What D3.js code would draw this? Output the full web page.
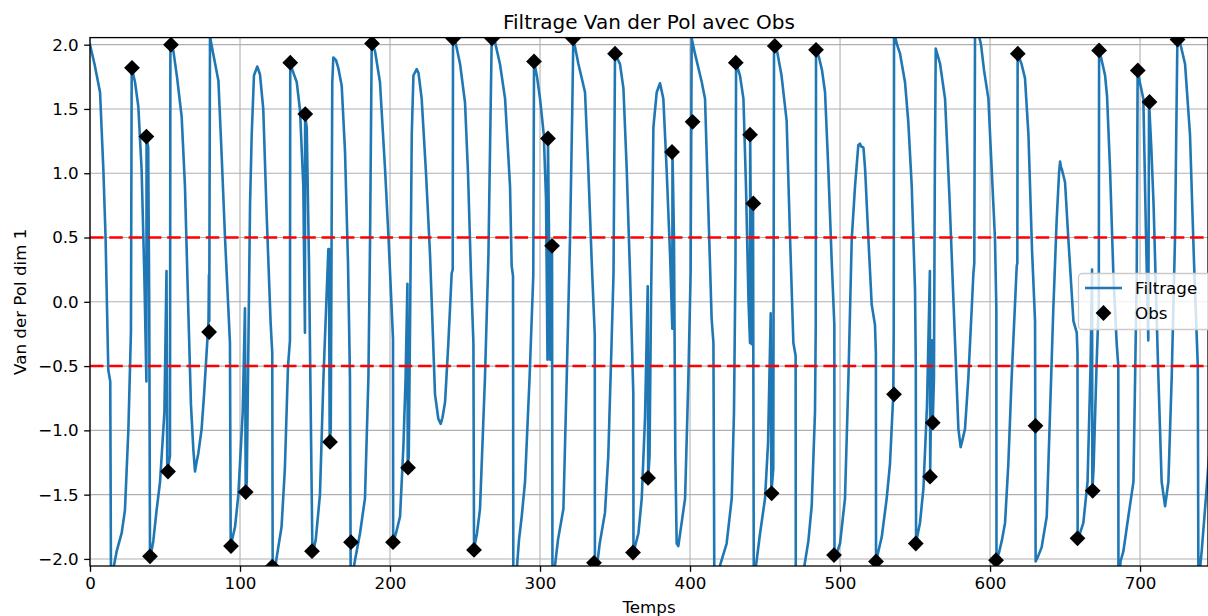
<!DOCTYPE html>
<html><head><meta charset="utf-8">
<script src="https://cdn.jsdelivr.net/npm/d3@7"></script>
<style>
html,body{margin:0;padding:0;background:#fff;}
svg{display:block;font-family:"DejaVu Sans",sans-serif;}
</style>
</head><body>
<svg id="chart" width="1208" height="616"></svg>
<script>
// ---------- data ----------
const titleText = "Filtrage Van der Pol avec Obs";
const xLabel = "Temps";
const yLabel = "Van der Pol dim 1";
const xTicks = [0, 100, 200, 300, 400, 500, 600, 700];
const yTicks = [-2.0, -1.5, -1.0, -0.5, 0.0, 0.5, 1.0, 1.5, 2.0];
const thresholds = [0.5, -0.5];
const legendLabels = ["Filtrage", "Obs"];

const obsTemps = [28, 37.6, 40, 52, 54, 79.4, 94, 103.8, 121.5, 133.5, 143.5, 148, 160, 174, 188, 202, 212,
  242, 256, 268, 296, 305.3, 308, 322, 336, 350, 362, 372, 388, 401.7, 430.5, 440, 442.2, 454.4, 456.5,
  484, 496, 524, 536, 550.5, 560, 561.8, 604, 618.5, 630.3, 658.3, 668.4, 672.7, 698.5, 706.3, 725];
const obsValeurs = [1.82, 1.285, -1.98, -1.32, 2.0, -0.235, -1.9, -1.48, -2.06, 1.86, 1.46, -1.94, -1.09, -1.87, 2.01, -1.87, -1.29,
  2.05, -1.93, 2.05, 1.87, 1.27, 0.435, 2.05, -2.03, 1.93, -1.95, -1.37, 1.165, 1.40, 1.86, 1.30, 0.765, -1.49, 1.99,
  1.96, -1.97, -2.02, -0.72, -1.88, -1.36, -0.94, -2.01, 1.93, -0.965, -1.84, -1.47, 1.955, 1.80, 1.555, 2.04];

const filtrage = [
[0,2.0],[3,1.85],[6.7,1.63],[8.9,1.03],[10.4,0.49],[12.2,-0.53],[13.5,-0.62],[14,-2.2],[15.5,-2.08],[17.8,-1.94],
[21.1,-1.80],[23.3,-1.62],[25.6,-0.99],[27.3,-0.23],[27.8,1.82],[30,1.71],[32.2,1.52],[34.4,1.03],[36.2,0.22],[37.6,-0.62],
[37.7,1.28],[38.8,1.2],[39.5,-0.05],[40,-2.0],[42.2,-1.86],[44.4,-1.62],[46.7,-1.4],[49.6,-0.86],[51.0,0.24],[51.5,-1.32],
[53.3,-1.2],[53.6,2.0],[55.6,1.95],[58,1.75],[61.1,1.44],[63.3,0.9],[65.5,-0.05],[67.3,-0.8],[68.9,-1.15],[70,-1.32],
[71,-1.25],[72.2,-1.18],[74.4,-0.99],[76.1,-0.71],[79.0,-0.15],[79.3,0.21],[79.5,-0.15],[80,2.1],[80.5,2.03],[82.3,1.92],
[85.6,1.72],[87.8,1.13],[90,0.5],[93.3,-0.32],[93.8,-1.9],[96.7,-1.75],[98.9,-1.5],[101.8,-0.86],[103.3,-0.05],[103.8,-1.48],
[104.5,-1.4],[105.6,-0.32],[106.7,0.76],[107.8,1.3],[109.3,1.76],[111.5,1.83],[113.3,1.77],[115.5,1.5],[117.7,0.7],[120.4,-0.16],
[121.5,-0.4],[121.8,-2.2],[124.3,-2.0],[127.7,-1.75],[129.9,-1.3],[132,-0.5],[133.3,-0.3],[133.5,1.86],[135,1.8],[137.8,1.71],
[140,1.49],[142.2,0.9],[143.3,-0.24],[143.4,1.46],[144.5,1.35],[146,0.3],[147.5,-1.2],[148.3,-1.97],[150.5,-1.85],[153.3,-1.5],
[155.6,-0.6],[158.9,0.41],[159.3,0.41],[159.8,-1.08],[160.5,-1.0],[161.5,1.7],[162.2,1.9],[164,1.88],[165.5,1.82],[167.8,1.68],
[170,1.17],[172,0.3],[173.3,-0.59],[173.8,-2.2],[176.5,-2.02],[180,-1.8],[183.3,-1.53],[185.6,-0.59],[186.7,0.49],[187.8,2.01],
[190,1.95],[193.3,1.71],[196.7,1.03],[199,0.5],[202.0,-0.29],[202.1,-1.87],[204,-1.8],[206.7,-1.67],[208.9,-1.13],[210.4,-0.59],
[211.6,0.14],[211.8,-1.29],[212.5,-1.2],[213.5,0.0],[214.5,1.3],[215.6,1.76],[217.8,1.81],[219,1.78],[221.1,1.58],[224,1.0],
[226.7,0.36],[230,-0.72],[232.2,-0.91],[233.8,-0.95],[235,-0.9],[236.7,-0.78],[238.9,-0.32],[241.1,0.22],[241.8,0.25],[242,2.1],
[244,2.0],[246.7,1.85],[250,1.55],[252,1.0],[254,0.2],[255.6,-0.32],[256,-1.92],[258,-1.8],[260,-1.61],[263.3,-0.59],
[265.6,0.36],[267.8,2.05],[270,2.02],[273.3,1.85],[276.7,1.58],[280,0.9],[281.1,0.28],[282,0.2],[282.2,-2.2],[284.4,-2.1],
[286,-1.85],[287.8,-1.67],[290,-1.4],[293,-0.6],[295.5,0.2],[296,1.87],[298,1.75],[300,1.58],[302.5,1.3],[304,0.8],
[305,-0.45],[305.3,1.27],[306,0.5],[306.8,-0.45],[307.5,0.43],[308,0.43],[308.3,-2.2],[310,-2.05],[312,-1.85],[315.6,-1.61],
[317.8,-0.59],[320,0.49],[321.5,1.5],[322.2,2.05],[325.6,1.85],[330,1.63],[332.2,1.03],[334.5,0.3],[336.5,-0.26],[336.6,-2.2],
[338,-2.05],[339.8,-1.88],[343.3,-1.64],[345.5,-1.2],[347.5,-0.4],[349,0.22],[350,1.93],[353.3,1.85],[355.6,1.66],[357.8,1.03],
[360,0.22],[362.2,-0.72],[362.3,-1.95],[365.6,-1.80],[367.8,-1.53],[370,-0.9],[371.8,0.12],[372.1,-1.37],[373,-1.2],[374,0.0],
[375.6,1.36],[377.8,1.63],[380,1.70],[382.2,1.58],[384.4,1.03],[386.7,0.36],[388.2,-0.21],[388.3,1.165],[389.3,0.5],[390.2,-1.2],
[391.1,-1.88],[392.2,-1.9],[394.4,-1.72],[396.7,-1.53],[398.9,-0.59],[400.4,0.22],[401.1,2.05],[403.3,1.93],[407.8,1.71],[410,1.58],
[412,0.8],[414.4,-0.13],[415.6,-0.32],[416.2,-2.2],[420,-2.05],[424.4,-1.88],[427.8,-1.53],[429.3,-0.86],[430.3,0.3],[430.7,1.86],
[433.3,1.76],[435.6,1.58],[437.3,0.9],[439,0.0],[440,-0.32],[440.1,1.30],[441.1,-0.33],[442.0,0.765],[442.5,-2.2],[444,-2.05],
[446.7,-1.80],[450,-1.53],[452,-1.1],[453.8,-0.09],[454.2,-1.49],[455.5,-1.3],[456,1.99],[458,1.95],[461,1.76],[464.4,1.41],
[466.7,0.49],[468.9,-0.32],[470.4,-0.42],[470.5,-2.2],[475.6,-2.1],[478.9,-1.86],[481.1,-1.59],[483.3,-0.86],[483.8,-0.2],[484,1.96],
[486,1.9],[488,1.8],[490,1.63],[492.2,1.03],[494.5,0.3],[496.2,-0.18],[496.3,-1.96],[498,-1.95],[500,-1.88],[503.3,-1.53],
[505.6,-0.59],[507.8,0.49],[510,0.90],[512.2,1.22],[513.3,1.23],[514,1.21],[515.6,1.2],[516.7,1.035],[518.9,0.49],[521.1,-0.02],
[523.3,-0.18],[523.9,-0.4],[524,-2.02],[527.8,-1.83],[531.1,-1.53],[533.3,-1.26],[535.5,-0.72],[535.8,-0.2],[536,2.1],[538,2.0],
[540,1.93],[543.3,1.71],[545.5,1.4],[547.8,0.9],[550,0.09],[550.5,-0.5],[550.7,-1.87],[553.3,-1.72],[555.6,-1.45],[558,-0.8],
[559.9,0.24],[560.1,-1.33],[561,-0.5],[561.5,-0.3],[561.8,-0.94],[562.6,-0.6],[563.2,1.0],[563.8,1.97],[566.7,1.85],[570,1.58],
[573,0.8],[576.7,-0.32],[578.9,-0.99],[580.4,-1.13],[581.5,-1.08],[583.3,-0.99],[585.5,-0.6],[587.8,-0.05],[588.9,0.22],[589.5,0.3],
[590,2.15],[592,2.1],[594,2.0],[596,1.8],[598.9,1.58],[601.1,1.03],[603.3,0.49],[604.2,-0.05],[604.3,-2.01],[606,-1.95],
[608,-1.85],[610,-1.72],[612.2,-1.26],[614.4,-0.59],[617.8,0.28],[618.2,0.3],[618.4,1.93],[621,1.85],[623.3,1.74],[625.6,1.3],
[628,0.4],[630,-0.15],[630.4,-2.02],[632,-1.98],[634.4,-1.91],[637.8,-1.67],[640,-0.86],[642.2,-0.05],[644.4,0.63],[646,1.0],
[646.7,1.09],[647.2,1.05],[647.8,1.035],[650,0.93],[652.2,0.49],[655.6,-0.15],[657.8,-0.24],[658.3,-0.4],[658.4,-1.835],[660,-1.8],
[662.2,-1.72],[665,-1.4],[667,-0.5],[668,0.25],[668.2,-1.465],[669,-1.3],[671,-0.5],[672.5,0.0],[672.7,1.955],[674,1.9],
[676.7,1.76],[678,1.6],[680,1.03],[682.2,0.22],[684.4,-0.32],[685.5,-0.5],[685.6,-2.2],[687,-2.02],[688.9,-1.94],[692.2,-1.67],
[695.6,-1.40],[696.7,-0.59],[697.8,0.22],[698.4,1.80],[700,1.7],[702.2,1.58],[704,0.5],[705.5,-0.3],[706,1.555],[707.5,1.2],
[709,0.76],[712,-0.5],[714.4,-1.40],[716.7,-1.59],[718.9,-1.40],[721.1,-0.59],[723.3,0.49],[724.9,2.05],[727,2.0],[730,1.85],
[733.3,1.3],[736,0.3],[738.5,-0.5],[738.9,-2.2],[741.1,-1.94],[744.4,-1.45],[746,-1.2]
];

// ---------- layout ----------
const W = 1208, H = 616;
const L = 90, R = 1208, T = 37.6, B = 566;
const x = d3.scaleLinear().domain([0, 745.3]).range([L, R]);
const y = d3.scaleLinear().domain([-2.055, 2.055]).range([B, T]);
const fs = 16.7;

const svg = d3.select("#chart");
svg.append("rect").attr("width", W).attr("height", H).attr("fill", "#fff");

svg.append("defs").append("clipPath").attr("id", "clip")
  .append("rect").attr("x", L).attr("y", T).attr("width", R - L).attr("height", B - T);

// grid
const grid = svg.append("g").attr("stroke", "#b0b0b0").attr("stroke-width", 1.1);
xTicks.forEach(v => grid.append("line").attr("x1", x(v)).attr("x2", x(v)).attr("y1", T).attr("y2", B));
yTicks.forEach(v => grid.append("line").attr("x1", L).attr("x2", R).attr("y1", y(v)).attr("y2", y(v)));

const plot = svg.append("g").attr("clip-path", "url(#clip)");

// filtrage line
plot.append("path").datum(filtrage)
  .attr("fill", "none").attr("stroke", "#1f77b4").attr("stroke-width", 2.6)
  .attr("stroke-linejoin", "round").attr("stroke-linecap", "square")
  .attr("d", d3.line().x(d => x(d[0])).y(d => y(d[1])));

// thresholds
thresholds.forEach(v => plot.append("line")
  .attr("x1", L).attr("x2", R).attr("y1", y(v)).attr("y2", y(v))
  .attr("stroke", "#ff0000").attr("stroke-width", 2.5).attr("stroke-dasharray", "13.5,5.8"));

// obs diamonds
const dS = 7.9;
const diamond = (cx, cy, s) => `M${cx},${cy - s}L${cx + s},${cy}L${cx},${cy + s}L${cx - s},${cy}Z`;
plot.selectAll("path.obs").data(obsTemps.map((t, i) => [t, obsValeurs[i]])).enter()
  .append("path").attr("class", "obs").attr("fill", "#000")
  .attr("d", d => diamond(x(d[0]), y(d[1]), dS));

// axes
const xAxis = d3.axisBottom(x).tickValues(xTicks).tickSize(5.8).tickPadding(5.2).tickFormat(d3.format("d"));
const gx = svg.append("g").attr("transform", `translate(0,${B})`).call(xAxis);
const yAxis = d3.axisLeft(y).tickValues(yTicks).tickSize(5.8).tickPadding(5.5).tickFormat(d3.format(".1f"));
const gy = svg.append("g").attr("transform", `translate(${L},0)`).call(yAxis);
[gx, gy].forEach(g => {
  g.select(".domain").remove();
  g.selectAll(".tick line").attr("stroke", "#000").attr("stroke-width", 1.3);
  g.selectAll(".tick text").attr("fill", "#000").style("font-size", fs + "px").style("font-family", "DejaVu Sans");
});

// spines
svg.append("rect").attr("x", L).attr("y", T).attr("width", R - L).attr("height", B - T)
  .attr("fill", "none").attr("stroke", "#000").attr("stroke-width", 1.3);

// title + labels
svg.append("text").attr("x", (L + R) / 2).attr("y", 28.5).attr("text-anchor", "middle")
  .style("font-size", "20px").text(titleText);
svg.append("text").attr("x", (L + R) / 2).attr("y", 613).attr("text-anchor", "middle")
  .style("font-size", fs + "px").text(xLabel);
svg.append("text").attr("transform", `translate(25.5,${(T + B) / 2}) rotate(-90)`).attr("text-anchor", "middle")
  .style("font-size", fs + "px").text(yLabel);

// legend
const lg = svg.append("g");
lg.append("rect").attr("x", 1078.5).attr("y", 273.5).attr("width", 140).attr("height", 56).attr("rx", 4)
  .attr("fill", "#fff").attr("fill-opacity", 0.8).attr("stroke", "#cccccc").attr("stroke-width", 1.3);
lg.append("line").attr("x1", 1085).attr("x2", 1122).attr("y1", 288).attr("y2", 288)
  .attr("stroke", "#1f77b4").attr("stroke-width", 2.6);
lg.append("path").attr("d", diamond(1103.5, 313, dS)).attr("fill", "#000");
lg.append("text").attr("x", 1135).attr("y", 294).style("font-size", fs + "px").text(legendLabels[0]);
lg.append("text").attr("x", 1135).attr("y", 319).style("font-size", fs + "px").text(legendLabels[1]);
</script>
</body></html>
